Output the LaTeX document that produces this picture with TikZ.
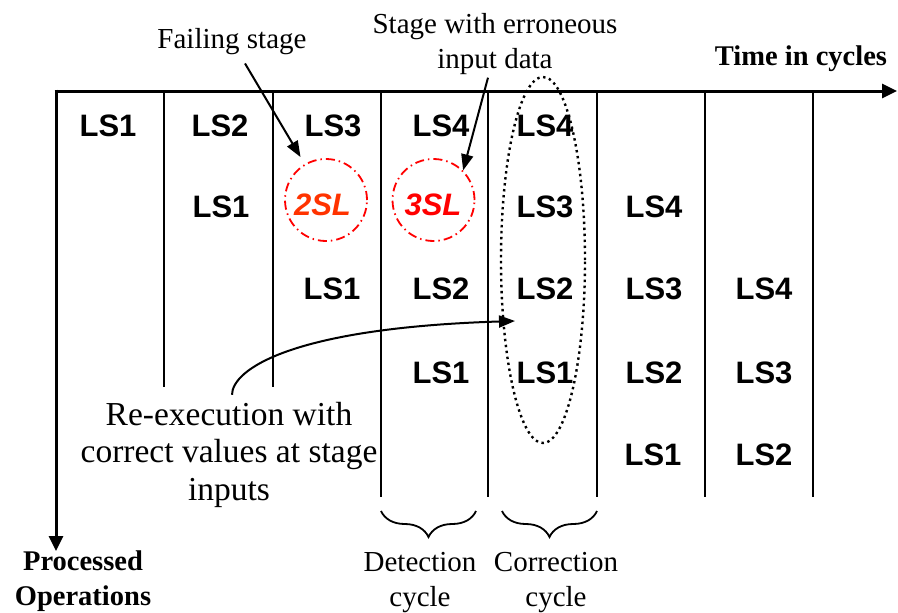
\documentclass[tikz,border=0pt]{standalone}
\usepackage{fontspec}
\setmainfont{Liberation Serif}
\newfontfamily\arialfont{Liberation Sans}
\usetikzlibrary{arrows.meta,decorations.pathreplacing}
\definecolor{errorange}{HTML}{FF3300}
\tikzset{
  ls/.style={font=\arialfont\bfseries\fontsize{31}{37}\selectfont, inner sep=0pt},
  errtxt/.style={font=\arialfont\bfseries\itshape\fontsize{31}{37}\selectfont, inner sep=0pt},
  lbl/.style={font=\fontsize{29}{35}\selectfont, align=center, inner sep=0pt},
  biglbl/.style={font=\fontsize{33.5}{37.5}\selectfont, align=center, inner sep=0pt},
  blbl/.style={font=\bfseries\fontsize{28.5}{35}\selectfont, align=center, inner sep=0pt},
  gridline/.style={line width=1.5pt},
  axisline/.style={line width=3pt, -{Triangle[length=15pt,width=14pt]}},
  arr/.style={line width=2pt, -{Triangle[length=16pt,width=12pt]}},
  failc/.style={circle, draw=red, line width=1.8pt, dash pattern=on 9pt off 4pt on 1.5pt off 4pt, minimum size=82pt, inner sep=0pt},
  dotell/.style={line width=2.4pt, dash pattern=on 2.4pt off 3.6pt},
  cbrace/.style={line width=1.8pt, decorate, decoration={brace, mirror, amplitude=26pt}}
}
\begin{document}
\begin{tikzpicture}[x=1pt,y=-1pt]
\useasboundingbox (0,0) rectangle (898,613);
% axes
\coordinate (O) at (56,91);
\coordinate (xend) at (897,91);
\coordinate (yend) at (56,551);
\draw[axisline] (54.5,91) -- (xend);
\draw[axisline] (56,89.5) -- (yend);
% grid lines
\foreach \x in {164,273} \draw[gridline] (\x,91) -- (\x,387);
\foreach \x in {381,488,597,705,813} \draw[gridline] (\x,91) -- (\x,497);
% row 1
\node[ls] (r1c1) at (108,126) {LS1};
\node[ls] (r1c2) at (220,126) {LS2};
\node[ls] (r1c3) at (333,126) {LS3};
\node[ls] (r1c4) at (441,126) {LS4};
\node[ls] (r1c5) at (545,126) {LS4};
% row 2
\node[ls] (r2c2) at (221,207) {LS1};
\node[failc] (c2) at (326,200) {};
\node[failc] (c3) at (433.5,200) {};
\node[errtxt, text=errorange] (t2) at (322.5,205) {2SL};
\node[errtxt, text=red] (t3) at (433,205) {3SL};
\node[ls] (r2c5) at (545,207) {LS3};
\node[ls] (r2c6) at (654,207) {LS4};
% row 3
\node[ls] (r3c3) at (332,289) {LS1};
\node[ls] (r3c4) at (441,289) {LS2};
\node[ls] (r3c5) at (545,289) {LS2};
\node[ls] (r3c6) at (654,289) {LS3};
\node[ls] (r3c7) at (764,289) {LS4};
% row 4
\node[ls] (r4c4) at (441,373) {LS1};
\node[ls] (r4c5) at (545,373) {LS1};
\node[ls] (r4c6) at (654,373) {LS2};
\node[ls] (r4c7) at (764,373) {LS3};
% row 5
\node[ls] (r5c6) at (653,455) {LS1};
\node[ls] (r5c7) at (764,455) {LS2};
% dotted ellipse
\draw[dotell] (543,260) ellipse [x radius=42pt, y radius=183pt];
% annotations
\node[lbl, anchor=base] (fs) at (232,48) {Failing stage};
\node[lbl, anchor=north] (se) at (495,13) {Stage with erroneous\\input data};
\node[blbl, anchor=base] (tc) at (801,65) {Time in cycles};
\node[blbl, anchor=north] (po) at (83,551) {Processed\\Operations};
\node[biglbl, inner xsep=0pt, inner ysep=7pt] (re) at (229,454.7) {Re-execution with\\correct values at stage\\inputs};
\node[lbl, anchor=north] (dc) at (420,552) {Detection\\cycle};
\node[lbl, anchor=north] (cc) at (556,552) {Correction\\cycle};
% arrows
\draw[arr, shorten >=8pt] ([xshift=13pt,yshift=-9pt]fs.south) -- (c2);
\draw[arr] ([xshift=-7pt,yshift=-3pt]se.south) -- (c3.45);
\coordinate (retip) at (515,321);
\draw[arr] ([xshift=3pt]re.north) .. controls (232,370) and (290,328) .. (retip);
% braces
\draw[cbrace] (381,511) -- (476,511);
\draw[cbrace] (502,511) -- (597,511);
\end{tikzpicture}
\end{document}
